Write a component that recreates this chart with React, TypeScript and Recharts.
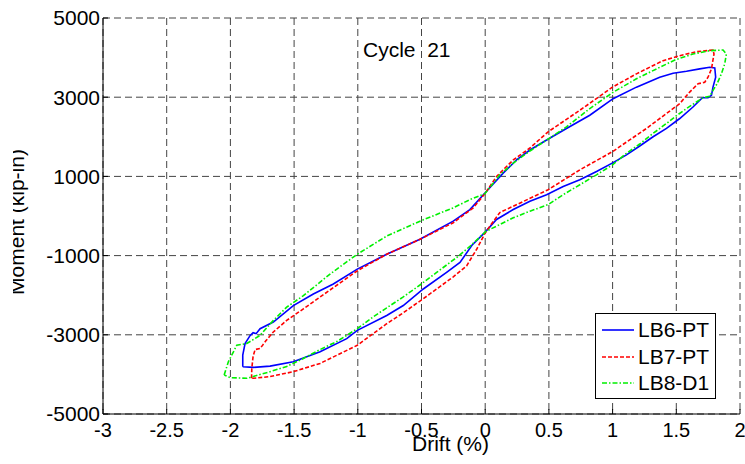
import React from "react";
import { LineChart, Line, XAxis, YAxis, CartesianGrid, Legend } from "recharts";

const FONT = "'Liberation Sans', Arial, Helvetica, sans-serif";

/* axis ticks ------------------------------------------------------------ */
const X_TICKS = [-3, -2.5, -2, -1.5, -1, -0.5, 0, 0.5, 1, 1.5, 2];
const Y_TICKS = [-5000, -3000, -1000, 1000, 3000, 5000];

/* LB6-PT (blue, solid) -------------------------------------------------- */
const lb6Drift = [
  -1.903, -1.903, -1.885, -1.846, -1.822, -1.798, -1.767, -1.663, -1.506, -1.349,
  -1.192, -1.004, -0.773, -0.512, -0.251, -0.12, -0.002, 0.141, 0.246, 0.351,
  0.482, 0.638, 0.821, 1.004, 1.187, 1.37, 1.475, 1.58, 1.684, 1.762,
  1.802, 1.809, 1.788, 1.776, 1.749, 1.705, 1.631, 1.527, 1.423, 1.318,
  1.213, 1.109, 1.004, 0.874, 0.743, 0.612, 0.482, 0.351, 0.22, 0.089,
  -0.002, -0.104, -0.198, -0.303, -0.486, -0.643, -0.773, -1.004, -1.087, -1.296,
  -1.506, -1.689, -1.82, -1.903,
];
const lb6Moment = [
  -3806, -3515, -3221, -3021, -2946, -2971, -2845, -2677, -2261, -1968,
  -1717, -1341, -965, -589, -130, 163, 582, 1083, 1416, 1667,
  1918, 2211, 2545, 2963, 3254, 3505, 3605, 3655, 3715, 3755,
  3740, 3505, 3254, 3046, 2988, 2988, 2753, 2462, 2211, 2001,
  1767, 1542, 1349, 1123, 915, 747, 539, 371, 163, -88,
  -414, -740, -1173, -1424, -1843, -2261, -2512, -2888, -3096, -3430,
  -3680, -3791, -3823, -3806,
];

/* LB7-PT (red, dashed) -------------------------------------------------- */
const lb7Drift = [
  -1.834, -1.832, -1.822, -1.806, -1.767, -1.72, -1.663, -1.558, -1.427, -1.218,
  -1.004, -0.773, -0.512, -0.251, -0.094, -0.002, 0.089, 0.22, 0.351, 0.494,
  0.743, 0.999, 1.187, 1.396, 1.527, 1.658, 1.788, 1.796, 1.776, 1.749,
  1.723, 1.671, 1.605, 1.527, 1.266, 0.999, 0.743, 0.494, 0.22, 0.115,
  0.037, -0.002, -0.067, -0.146, -0.253, -0.381, -0.499, -0.643, -0.773, -1.004,
  -1.296, -1.506, -1.689, -1.82, -1.834,
];
const lb7Moment = [
  -4099, -3848, -3547, -3372, -3347, -3146, -2928, -2637, -2344, -1868,
  -1384, -965, -589, -170, 206, 564, 998, 1416, 1717, 2126,
  2670, 3254, 3590, 3923, 4049, 4149, 4192, 4091, 3715, 3505,
  3379, 3339, 3129, 2838, 2211, 1625, 1166, 664, 246, 88,
  -256, -439, -840, -1259, -1542, -1843, -2118, -2444, -2720, -3264,
  -3723, -3931, -4056, -4099, -4099,
];

/* LB8-D1 (green, dash-dot) ---------------------------------------------- */
const lb8Drift = [
  -2.049, -2.016, -1.976, -1.95, -1.871, -1.767, -1.663, -1.558, -1.427, -1.218,
  -1.004, -0.773, -0.512, -0.251, -0.12, -0.002, 0.115, 0.22, 0.351, 0.494,
  0.638, 0.821, 0.999, 1.187, 1.37, 1.496, 1.631, 1.762, 1.867, 1.893,
  1.88, 1.854, 1.82, 1.788, 1.762, 1.71, 1.658, 1.58, 1.496, 1.423,
  1.318, 1.213, 1.109, 0.999, 0.874, 0.743, 0.612, 0.494, 0.351, 0.22,
  0.089, 0.005, -0.12, -0.224, -0.381, -0.512, -0.643, -0.773, -0.878, -1.004,
  -1.165, -1.296, -1.427, -1.558, -1.689, -1.871, -2.002, -2.049,
];
const lb8Moment = [
  -4016, -3680, -3430, -3264, -3221, -3013, -2637, -2301, -2011, -1467,
  -965, -506, -130, 206, 414, 564, 1040, 1334, 1642, 1943,
  2251, 2713, 3114, 3465, 3755, 3949, 4091, 4174, 4192, 4091,
  3841, 3590, 3339, 3171, 3021, 2988, 2878, 2713, 2520, 2337,
  2086, 1818, 1584, 1291, 1040, 790, 539, 288, 120, -45,
  -256, -389, -765, -1048, -1424, -1742, -2043, -2319, -2545, -2845,
  -3171, -3372, -3598, -3798, -3931, -4099, -4081, -4016,
];

const toPoints = (xs: number[], ys: number[]) => xs.map((x, i) => ({ x, y: ys[i] }));

const SERIES = [
  { name: "LB6-PT", data: toPoints(lb6Drift, lb6Moment), color: "#0000ff", dash: undefined as string | undefined },
  { name: "LB7-PT", data: toPoints(lb7Drift, lb7Moment), color: "#ff0000", dash: "4 2" },
  { name: "LB8-D1", data: toPoints(lb8Drift, lb8Moment), color: "#00f000", dash: "5 2 1.5 2" },
];

/* legend box ------------------------------------------------------------ */
function LegendBox() {
  return (
    <div
      style={{
        width: 121,
        height: 86,
        boxSizing: "border-box",
        border: "1px solid #000",
        background: "#fff",
        paddingTop: 3,
        fontFamily: FONT,
        fontSize: 21,
        color: "#000",
      }}
    >
      {SERIES.map((s) => (
        <div key={s.name} style={{ display: "flex", alignItems: "center", height: 26.5 }}>
          <svg width={42} height={10} style={{ flex: "none" }}>
            <line x1={6} y1={5} x2={38} y2={5} stroke={s.color} strokeWidth={1.6} strokeDasharray={s.dash} />
          </svg>
          <span style={{ lineHeight: "22px" }}>{s.name}</span>
        </div>
      ))}
    </div>
  );
}

export default function App() {
  return (
    <div style={{ position: "absolute", left: 0, top: 0, width: 745, height: 464, background: "#fff" }}>
      <LineChart width={745} height={464} margin={{ top: 18, right: 5, bottom: 20, left: 0 }}>
        <CartesianGrid stroke="#444" strokeDasharray="7 4" />
        <XAxis
          dataKey="x"
          type="number"
          domain={[-3, 2]}
          ticks={X_TICKS}
          interval={0}
          allowDataOverflow
          height={30}
          tickSize={-5}
          tickMargin={14}
          axisLine={{ stroke: "#000" }}
          tickLine={{ stroke: "#000" }}
          tick={{ fill: "#000", fontSize: 20, fontFamily: FONT }}
        />
        <XAxis
          xAxisId="top"
          orientation="top"
          type="number"
          domain={[-3, 2]}
          ticks={X_TICKS}
          interval={0}
          allowDataOverflow
          height={0}
          tickSize={-5}
          tick={false}
          axisLine={{ stroke: "#000" }}
          tickLine={{ stroke: "#000" }}
        />
        <YAxis
          type="number"
          domain={[-5000, 5000]}
          ticks={Y_TICKS}
          interval={0}
          allowDataOverflow
          width={103}
          tickSize={-5}
          tickMargin={8}
          axisLine={{ stroke: "#000" }}
          tickLine={{ stroke: "#000" }}
          tick={{ fill: "#000", fontSize: 21, fontFamily: FONT }}
        />
        <YAxis
          yAxisId="right"
          orientation="right"
          type="number"
          domain={[-5000, 5000]}
          ticks={Y_TICKS}
          interval={0}
          allowDataOverflow
          width={0}
          tickSize={-5}
          tick={false}
          axisLine={{ stroke: "#000" }}
          tickLine={{ stroke: "#000" }}
        />
        {SERIES.map((s) => (
          <Line
            key={s.name}
            data={s.data}
            dataKey="y"
            name={s.name}
            type="linear"
            stroke={s.color}
            strokeWidth={1.6}
            strokeDasharray={s.dash}
            dot={false}
            activeDot={false}
            isAnimationActive={false}
          />
        ))}
        <Legend
          layout="horizontal"
          align="center"
          verticalAlign="middle"
          content={() => <LegendBox />}
          wrapperStyle={{ left: 595, top: 313, width: 121, height: 86 }}
        />
      </LineChart>

      {/* title inside axes */}
      <div
        style={{
          position: "absolute",
          left: 363,
          top: 38,
          fontFamily: FONT,
          fontSize: 21,
          whiteSpace: "pre",
          color: "#000",
          lineHeight: "24px",
        }}
      >
        {"Cycle  21"}
      </div>

      {/* x label */}
      <div
        style={{
          position: "absolute",
          left: 412,
          top: 433,
          fontFamily: FONT,
          fontSize: 21,
          whiteSpace: "pre",
          color: "#000",
          lineHeight: "22px",
        }}
      >
        Drift (%)
      </div>

      {/* y label (partly cut off, as in the figure) */}
      <svg width={30} height={464} style={{ position: "absolute", left: 0, top: 0 }}>
        <defs>
          <clipPath id="ylabClip">
            <rect x={13} y={0} width={17} height={464} />
          </clipPath>
        </defs>
        <g clipPath="url(#ylabClip)">
          <text
            transform="translate(24,222) rotate(-90)"
            textAnchor="middle"
            fontFamily={FONT}
            fontSize={21}
            fill="#000"
          >
            Moment (kip-in)
          </text>
        </g>
      </svg>
    </div>
  );
}
